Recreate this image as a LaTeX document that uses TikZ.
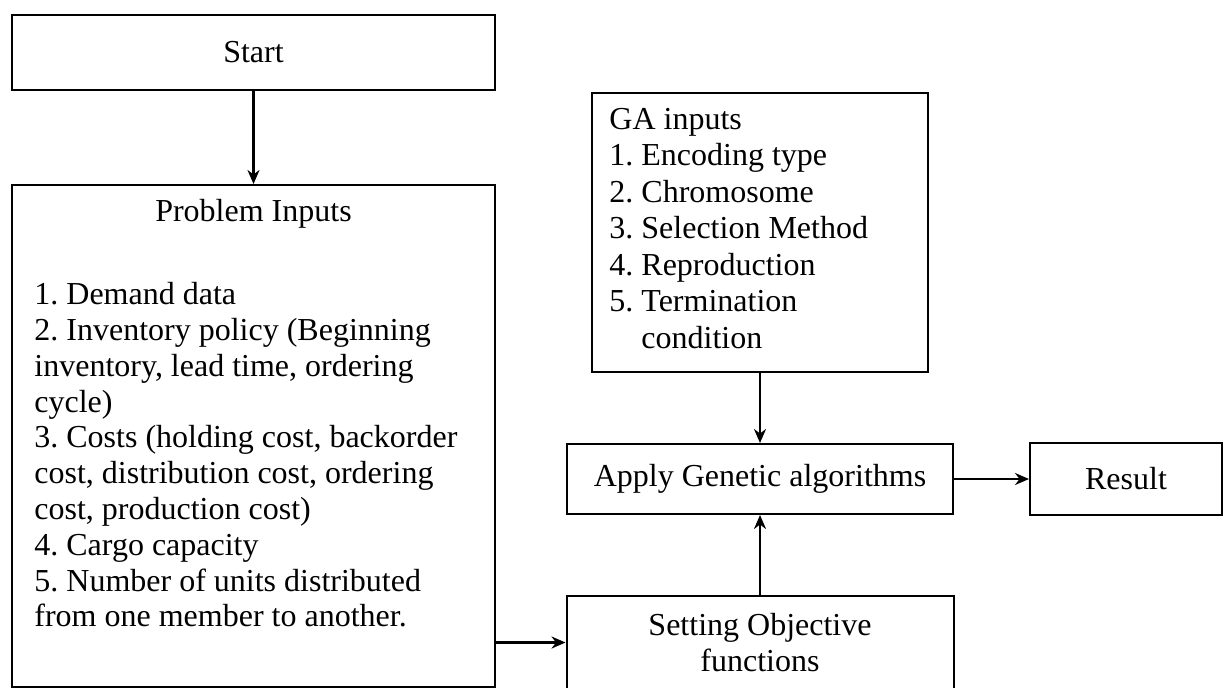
\documentclass[tikz,border=0pt]{standalone}
\usepackage{fontspec}
\setmainfont{Liberation Serif}
\usetikzlibrary{positioning, arrows.meta}
\frenchspacing

\begin{document}
\begin{tikzpicture}[
  node distance=10mm,
  font=\fontsize{16}{18}\selectfont,
  box/.style={draw, line width=1pt, inner sep=0pt, align=center},
  txt/.style={inner sep=0pt, align=left},
  arr/.style={-{Stealth[length=7pt, width=6pt]}, line width=1.3pt},
]
\useasboundingbox (0,0) rectangle (612pt,-343.5pt);
\node[box, minimum width=241.5pt, minimum height=37.5pt] (start) at (126.75pt,-26.25pt) {Start};
\node[box, minimum width=241.5pt, minimum height=251pt, below=46.5pt of start] (prob) {};
\node[inner sep=0pt] (probhead) at ([yshift=-15pt]prob.north) {Problem Inputs};
\node[txt, anchor=north west, font=\fontsize{16}{17.9}\selectfont] (problist)
  at ([xshift=11.5pt, yshift=-49pt]prob.north west)
  {1. Demand data\\ 2. Inventory policy (Beginning\\ inventory, lead time, ordering\\
   cycle)\\ 3. Costs (holding cost, backorder\\ cost, distribution cost, ordering\\
   cost, production cost)\\ 4. Cargo capacity\\ 5. Number of units distributed\\
   from one member to another.};
\node[box, minimum width=168pt, minimum height=139.5pt] (ga) at (380pt,-116.25pt) {};
\node[txt, anchor=north west, font=\fontsize{16}{18.2}\selectfont] (galist)
  at ([xshift=9pt, yshift=-8pt]ga.north west)
  {GA inputs\\ 1. Encoding type\\ 2. Chromosome\\ 3. Selection Method\\
   4. Reproduction\\ 5. Termination\\ \hphantom{5. }condition};
\node[box, minimum width=193pt, minimum height=35pt, below=35pt of ga] (apply)
  {Apply Genetic algorithms};
\node[box, minimum width=96pt, minimum height=36pt, right=37.5pt of apply] (result)
  {Result};
\node[box, minimum width=193.5pt, minimum height=46.5pt, below=40pt of apply] (obj)
  {Setting Objective\\functions};
\draw[arr] (start) -- (prob);
\draw[arr] (ga) -- (apply);
\draw[arr] (obj) -- (apply);
\draw[arr] (apply) -- (result);
\draw[arr] (obj.west -| prob.east) -- (obj.west);
\end{tikzpicture}
\end{document}
